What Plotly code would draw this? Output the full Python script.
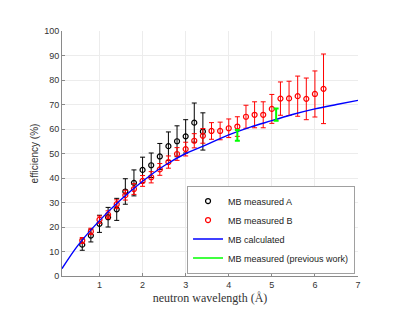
import plotly.graph_objects as go

# Measured A (black)
lam_a = [0.6, 0.8, 1.0, 1.2, 1.4, 1.6, 1.8, 2.0, 2.2, 2.4, 2.6, 2.8, 3.0, 3.2, 3.4]
eff_a = [12.8, 16.5, 21.3, 24.0, 27.2, 34.5, 38.0, 43.3, 45.2, 48.8, 53.0, 55.0, 57.0, 62.6, 59.0]
err_a = [2.3, 2.6, 3.5, 4.0, 4.5, 5.2, 5.3, 5.2, 5.0, 5.3, 5.8, 6.3, 6.8, 8.0, 7.6]

# Measured B (red)
lam_b = [0.6, 0.8, 1.0, 1.2, 1.4, 1.6, 1.8, 2.0, 2.2, 2.4, 2.6, 2.8, 3.0, 3.2, 3.4,
         3.6, 3.8, 4.0, 4.2, 4.4, 4.6, 4.8, 5.0, 5.2, 5.4, 5.6, 5.8, 6.0, 6.2]
eff_b = [14.5, 18.2, 23.0, 25.0, 29.3, 33.0, 35.5, 38.8, 40.3, 43.5, 46.5, 49.8, 51.8, 55.2, 57.2,
         59.2, 59.2, 60.3, 61.0, 65.0, 65.8, 65.8, 68.2, 72.4, 72.5, 73.4, 72.3, 74.3, 76.4]
err_b = [1.2, 1.3, 1.5, 1.6, 1.8, 2.0, 2.2, 2.2, 2.3, 2.4, 2.5, 2.6, 2.8, 2.9, 3.0,
         3.4, 3.6, 3.8, 4.0, 4.7, 5.3, 5.3, 5.9, 6.8, 7.0, 8.2, 8.5, 9.4, 14.2]

# Calculated curve
lam_c = [0.13, 0.5, 1.0, 1.5, 2.0, 2.5, 3.0, 3.5, 4.0, 4.5, 5.0, 5.5, 6.0, 6.5, 7.0]
eff_c = [3.0, 12.5, 22.6, 31.2, 38.7, 45.0, 50.0, 53.7, 57.6, 60.8, 63.4, 66.0, 68.2, 70.0, 71.7]

# Previous work (green)
lam_p = [4.2, None, 5.1]
eff_p = [57.4, None, 65.9]
err_p = [2.2, 0, 2.5]

x_ticks = [1, 2, 3, 4, 5, 6, 7]
y_ticks = [0, 10, 20, 30, 40, 50, 60, 70, 80, 90, 100]

fig = go.Figure()
fig.add_trace(go.Scatter(
    x=lam_a, y=eff_a, mode="markers", name="MB measured A",
    marker=dict(symbol="circle-open", size=5, color="black", line=dict(width=1.2, color="black")),
    error_y=dict(type="data", array=err_a, color="black", thickness=1, width=2.5),
))
fig.add_trace(go.Scatter(
    x=lam_b, y=eff_b, mode="markers", name="MB measured B",
    marker=dict(symbol="circle-open", size=5, color="red", line=dict(width=1.2, color="red")),
    error_y=dict(type="data", array=err_b, color="red", thickness=1, width=2.5),
))
fig.add_trace(go.Scatter(
    x=lam_c, y=eff_c, mode="lines", name="MB calculated", line_shape="spline",
    line=dict(color="#0000ff", width=1.4),
))
fig.add_trace(go.Scatter(
    x=lam_p, y=eff_p, mode="lines", name="MB measured (previous work)",
    line=dict(color="#00ff00", width=1.5), connectgaps=False,
    error_y=dict(type="data", array=err_p, color="#00ff00", thickness=2, width=2.5),
))

axis_common = dict(
    showline=True, linecolor="#8a8a8a", linewidth=1, ticks="inside", ticklen=3,
    tickcolor="#8a8a8a", showgrid=True, gridcolor="#ececec", gridwidth=1,
    zeroline=False, tickfont=dict(family="Liberation Sans, Arial", size=9, color="#333333"),
)
fig.update_xaxes(range=[0.13, 7], tickvals=x_ticks, ticktext=[str(t) for t in x_ticks],
                 title=dict(text="neutron wavelength (Å)", standoff=4,
                            font=dict(family="Liberation Serif, Times New Roman", size=12, color="#333333")),
                 **axis_common)
fig.update_yaxes(range=[0, 100], tickvals=y_ticks, ticktext=[str(t) for t in y_ticks],
                 title=dict(text="efficiency (%)", standoff=3,
                            font=dict(family="Liberation Sans, Arial", size=10, color="#333333")),
                 **axis_common)

fig.update_layout(
    width=407, height=318,
    margin=dict(l=54, r=57, t=23, b=50, autoexpand=False),
    plot_bgcolor="white", paper_bgcolor="white",
    showlegend=True,
    legend=dict(x=0.99, y=0.01, xanchor="right", yanchor="bottom",
                bgcolor="white", bordercolor="#a0a0a0", borderwidth=1,
                font=dict(family="Liberation Sans, Arial", size=9, color="#222222"),
                tracegroupgap=0, itemwidth=30),
)

fig.write_html("out.html")
